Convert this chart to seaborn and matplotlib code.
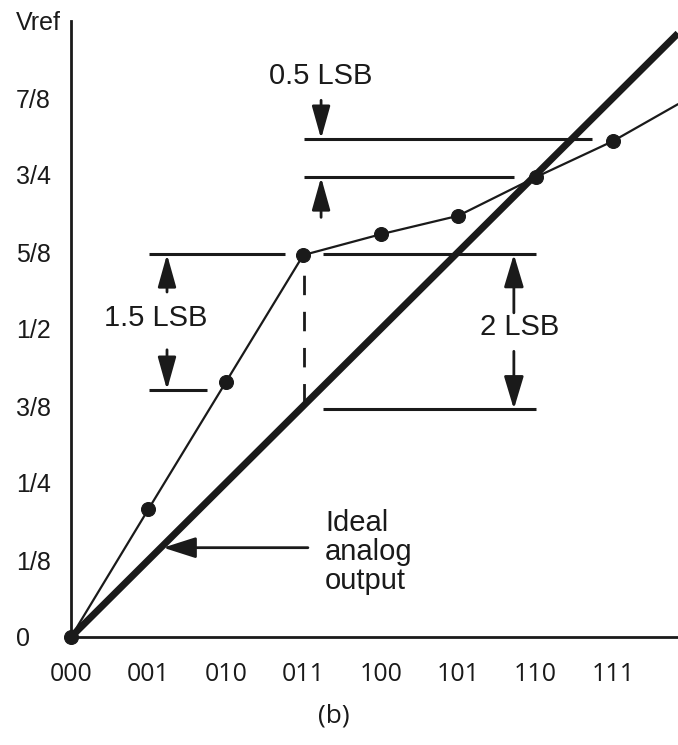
import seaborn as sns
import matplotlib.pyplot as plt

# codes on the x axis, output in LSB (1/8 Vref) on the y axis
codes = ["000", "001", "010", "011", "100", "101", "110", "111"]
code_pos = [0, 1, 2, 3, 4, 5, 6, 7]
measured = [0, 1.66, 3.31, 4.96, 5.23, 5.47, 5.97, 6.44]
x_end = 7.84
measured_end = 6.92
ideal_x = [0, 7.84]
ideal_y = [0, 7.84]
y_labels = ["0", "1/8", "1/4", "3/8", "1/2", "5/8", "3/4", "7/8", "Vref"]
y_ticks = [0, 1, 2, 3, 4, 5, 6, 7, 8]

sns.set_theme(style="white")
plt.rcParams['font.family'] = ['Liberation Sans', 'DejaVu Sans']

fig = plt.figure(figsize=(6.78, 7.45), dpi=100)
ax = fig.add_axes([71 / 678, 108 / 745, 607 / 678, 616 / 745])

# ideal line (thick) and measured transfer curve
sns.lineplot(x=ideal_x, y=ideal_y, color="k", lw=5, ax=ax, solid_capstyle="butt")
sns.lineplot(x=code_pos + [x_end], y=measured + [measured_end], color="k", lw=1.6,
             sort=False, estimator=None, ax=ax)
sns.scatterplot(x=code_pos, y=measured, color="k", s=100, edgecolor="k",
                zorder=5, clip_on=False, ax=ax)

ax.set_xlim(0, 7.84)
ax.set_ylim(0, 8)
for side in ["top", "right"]:
    ax.spines[side].set_visible(False)
for side in ["left", "bottom"]:
    ax.spines[side].set_color("k")
    ax.spines[side].set_linewidth(2)

ax.set_xticks(code_pos, codes)
ax.set_yticks(y_ticks, y_labels)
ax.tick_params(axis="x", length=0, pad=18, labelsize=18, colors="k")
ax.tick_params(axis="y", length=0, pad=39.6, labelsize=18, colors="k")
for lbl in ax.get_xticklabels():
    lbl.set_fontfamily(["Open Sans", "DejaVu Sans"])
for lbl in ax.get_yticklabels():
    lbl.set_ha("left")

# reference levels
ax.hlines([6.47, 5.97], [3.01, 3.01], [6.73, 5.72], color="k", lw=2.2)
ax.hlines([4.97, 4.97, 2.96, 3.21], [1.01, 3.26, 3.26, 1.01], [2.76, 6.01, 6.01, 1.76],
          color="k", lw=2.2)
ax.vlines(3.01, 3.04, 4.87, color="k", lw=2, linestyles=(0, (7, 6)))


def arrow(x0, y0, x1, y1, hw=0.28):
    ax.annotate("", xy=(x1, y1), xytext=(x0, y0),
                arrowprops=dict(arrowstyle=f"-|>,head_length=1.0,head_width={hw}",
                                mutation_scale=20, color="k", lw=2,
                                shrinkA=0, shrinkB=0))


arrow(3.23, 6.97, 3.23, 6.47)
arrow(3.23, 5.45, 3.23, 5.97)
arrow(1.24, 4.48, 1.24, 4.97)
arrow(1.24, 3.73, 1.24, 3.21)
arrow(5.72, 4.21, 5.72, 4.97, hw=0.3)
arrow(5.72, 3.71, 5.72, 2.96, hw=0.3)
arrow(3.06, 1.16, 1.19, 1.16, hw=0.32)

ax.text(3.22, 7.28, "0.5 LSB", fontsize=21, ha="center", va="center", color="k")
ax.text(1.10, 4.14, "1.5 LSB", fontsize=21, ha="center", va="center", color="k")
ax.text(5.80, 4.03, "2 LSB", fontsize=21, ha="center", va="center", color="k")
ax.text(3.28, 1.10, "Ideal\nanalog\noutput", fontsize=21, ha="left", va="center",
        linespacing=1.05, color="k")

fig.text(0.492, 0.039, "(b)", fontsize=19, ha="center", va="center",
         family=["Open Sans", "DejaVu Sans"], color="k")

fig.savefig("out.png", dpi=100)
